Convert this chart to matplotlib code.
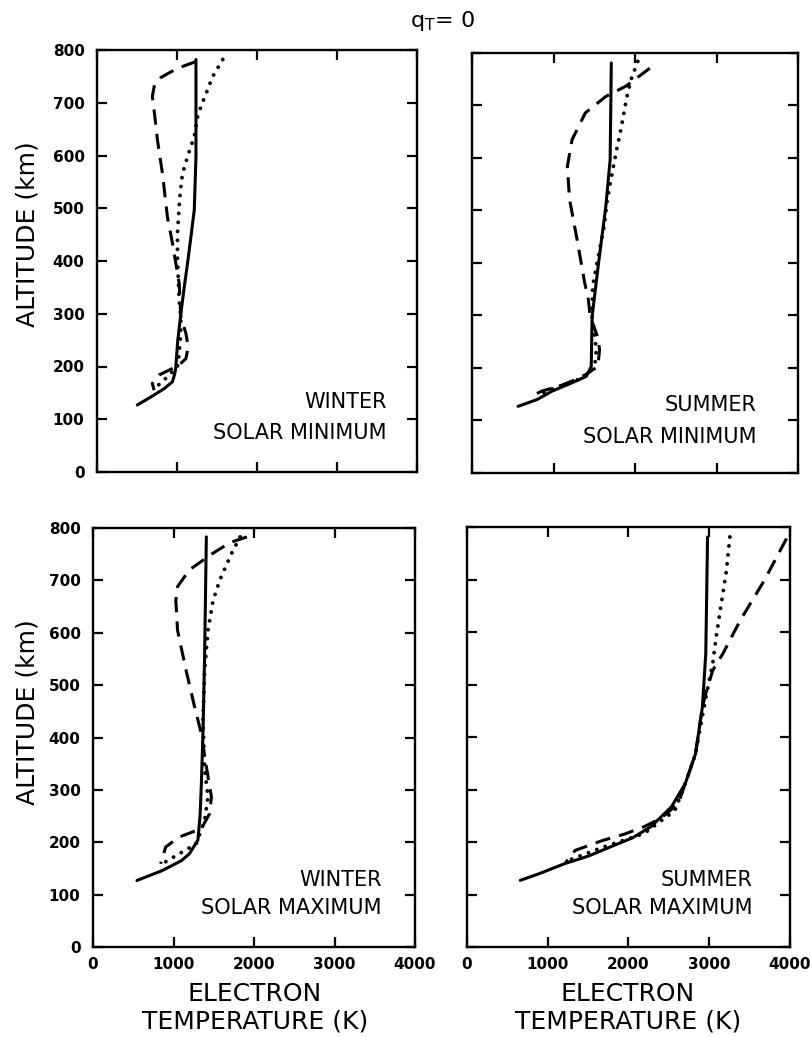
import matplotlib
matplotlib.use("Agg")
import matplotlib.pyplot as plt

plt.rcParams['font.family'] = ['DejaVu Sans']

# ---------------- data (electron temperature K vs altitude km) ----------------
# Winter, solar minimum
wmin_solid_T   = [503, 671, 839, 943, 973, 985, 1010, 1048, 1090, 1132, 1175, 1216, 1237, 1237, 1237]
wmin_solid_alt = [127, 142, 158, 171, 187, 199, 250, 300, 350, 396, 447, 497, 598, 700, 782]
wmin_dash_T    = [1237, 1000, 800, 720, 692, 713, 755, 818, 880, 943, 985, 1027, 1048, 1111, 1140, 1111, 1027, 901, 776, 692, 713]
wmin_dash_alt  = [778, 765, 748, 735, 712, 687, 630, 566, 484, 434, 396, 358, 294, 263, 237, 215, 203, 193, 184, 168, 155]
wmin_dot_T     = [1572, 1447, 1300, 1258, 1216, 1132, 1069, 1040, 1027, 1006, 1006, 1027, 1048, 1045, 1027, 1006, 922, 797, 720]
wmin_dot_alt   = [782, 750, 693, 674, 636, 598, 566, 530, 503, 453, 402, 326, 294, 260, 225, 199, 187, 168, 160]

# Summer, solar minimum
smin_solid_T   = [565, 800, 983, 1200, 1402, 1463, 1474, 1548, 1642, 1695, 1704, 1709]
smin_solid_alt = [127, 140, 156, 170, 184, 203, 298, 394, 508, 597, 711, 781]
smin_dash_T    = [2182, 1890, 1640, 1391, 1228, 1170, 1197, 1290, 1383, 1428, 1450, 1540, 1565, 1545, 1400, 1275, 1065, 855, 780]
smin_dash_alt  = [771, 737, 717, 686, 635, 584, 521, 444, 362, 330, 298, 260, 235, 203, 188, 178, 165, 156, 150]
smin_dot_T     = [2034, 1950, 1893, 1834, 1775, 1719, 1660, 1622, 1541, 1481, 1474, 1525, 1506, 1360, 1065, 815]
smin_dot_alt   = [784, 749, 711, 660, 616, 571, 521, 470, 406, 356, 298, 235, 203, 181, 165, 149]

# Winter, solar maximum
wmax_solid_T   = [546, 861, 1100, 1197, 1303, 1330, 1345, 1366, 1387, 1408]
wmax_solid_alt = [127, 146, 165, 178, 204, 250, 306, 408, 561, 783]
wmax_dash_T    = [1912, 1700, 1492, 1197, 1050, 1029, 1050, 1155, 1261, 1345, 1408, 1471, 1450, 1345, 1071, 903, 840]
wmax_dash_alt  = [783, 772, 752, 720, 688, 662, 605, 529, 459, 408, 344, 287, 255, 226, 210, 191, 159]
wmax_dot_T     = [1828, 1723, 1576, 1492, 1429, 1387, 1366, 1387, 1429, 1387, 1282, 1071, 861]
wmax_dot_alt   = [783, 752, 701, 662, 605, 529, 433, 338, 287, 242, 197, 178, 159]

# Summer, solar maximum
smax_solid_T   = [660, 900, 1213, 1500, 1766, 2050, 2277, 2532, 2702, 2830, 2915, 2957, 2979]
smax_solid_alt = [127, 140, 159, 173, 190, 208, 229, 267, 311, 368, 457, 559, 781]
smax_dash_T    = [3957, 3681, 3383, 3170, 3043, 2957, 2915, 2830, 2702, 2617, 2400, 2191, 1950, 1681, 1340, 1213]
smax_dash_alt  = [778, 698, 622, 559, 527, 483, 457, 368, 311, 273, 245, 229, 215, 203, 184, 159]
smax_dot_T     = [3255, 3213, 3149, 3085, 3043, 3000, 2936, 2830, 2702, 2574, 2191, 1681, 1255]
smax_dot_alt   = [781, 717, 654, 590, 540, 508, 457, 368, 311, 260, 216, 190, 165]

x_ticks = [0, 1000, 2000, 3000, 4000]
x_ticklabels = ['0', '1000', '2000', '3000', '4000']
y_ticks = [0, 100, 200, 300, 400, 500, 600, 700, 800]
y_ticklabels = ['0', '100', '200', '300', '400', '500', '600', '700', '800']

panel_season = ['WINTER', 'SUMMER', 'WINTER', 'SUMMER']
panel_solar = ['SOLAR MINIMUM', 'SOLAR MINIMUM', 'SOLAR MAXIMUM', 'SOLAR MAXIMUM']

# ---------------- figure ----------------
W, H = 810, 1037
fig = plt.figure(figsize=(W / 100, H / 100), dpi=100)

def px_axes(l, r, t, b):
    return fig.add_axes([l / W, 1 - b / H, (r - l) / W, (b - t) / H])

panels = [
    dict(box=(97, 417, 50, 472), data=(wmin_solid_T, wmin_solid_alt, wmin_dash_T, wmin_dash_alt, wmin_dot_T, wmin_dot_alt),
         left=True, bottom=False, txt=(0.906, 0.166, 0.092)),
    dict(box=(472, 798, 53, 473), data=(smin_solid_T, smin_solid_alt, smin_dash_T, smin_dash_alt, smin_dot_T, smin_dot_alt),
         left=False, bottom=False, txt=(0.872, 0.162, 0.086)),
    dict(box=(93, 415, 528, 947), data=(wmax_solid_T, wmax_solid_alt, wmax_dash_T, wmax_dash_alt, wmax_dot_T, wmax_dot_alt),
         left=True, bottom=True, txt=(0.897, 0.160, 0.093)),
    dict(box=(467, 790, 527, 947), data=(smax_solid_T, smax_solid_alt, smax_dash_T, smax_dash_alt, smax_dot_T, smax_dot_alt),
         left=False, bottom=True, txt=(0.885, 0.160, 0.093)),
]

for i, p in enumerate(panels):
    ax = px_axes(*p['box'])
    sT, sA, dT, dA, oT, oA = p['data']
    ax.plot(sT, sA, color='black', lw=2.2, solid_capstyle='round', solid_joinstyle='round')
    ax.plot(dT, dA, color='black', lw=2.2, linestyle=(0, (5, 3)), dash_capstyle='butt')
    ax.plot(oT, oA, color='black', lw=2.8, linestyle=(0, (0.01, 2.3)), dash_capstyle='round')
    ax.set_xlim(0, 4000)
    ax.set_ylim(0, 800)
    ax.set_xticks(x_ticks)
    ax.set_yticks(y_ticks)
    ax.set_xticklabels(x_ticklabels if p['bottom'] else [])
    ax.set_yticklabels(y_ticklabels if p['left'] else [])
    ax.tick_params(direction='in', length=7, width=1.6, top=True, right=True,
                   labelsize=11)
    for lbl in ax.get_xticklabels() + ax.get_yticklabels():
        lbl.set_fontweight('bold')
    ax.tick_params(axis='y', pad=9)
    ax.tick_params(axis='x', pad=7)
    for sp in ax.spines.values():
        sp.set_linewidth(1.7)
    tx, ty1, ty2 = p['txt']
    ax.text(tx, ty1, panel_season[i], transform=ax.transAxes, ha='right', va='center', fontsize=15)
    ax.text(tx, ty2, panel_solar[i], transform=ax.transAxes, ha='right', va='center', fontsize=15)

# axis titles
fig.text(28 / W, 1 - 234 / H, 'ALTITUDE (km)', rotation=90, ha='center', va='center', fontsize=18)
fig.text(28 / W, 1 - 712 / H, 'ALTITUDE (km)', rotation=90, ha='center', va='center', fontsize=18)
fig.text(255 / W, 1 - 1008 / H, 'ELECTRON\nTEMPERATURE (K)', ha='center', va='center', fontsize=18, linespacing=1.2)
fig.text(628 / W, 1 - 1008 / H, 'ELECTRON\nTEMPERATURE (K)', ha='center', va='center', fontsize=18, linespacing=1.2)

fig.text(442 / W, 1 - 21 / H, r'$\mathregular{q_T}$= 0', ha='center', va='center', fontsize=16)

fig.savefig('out.png', dpi=100)
